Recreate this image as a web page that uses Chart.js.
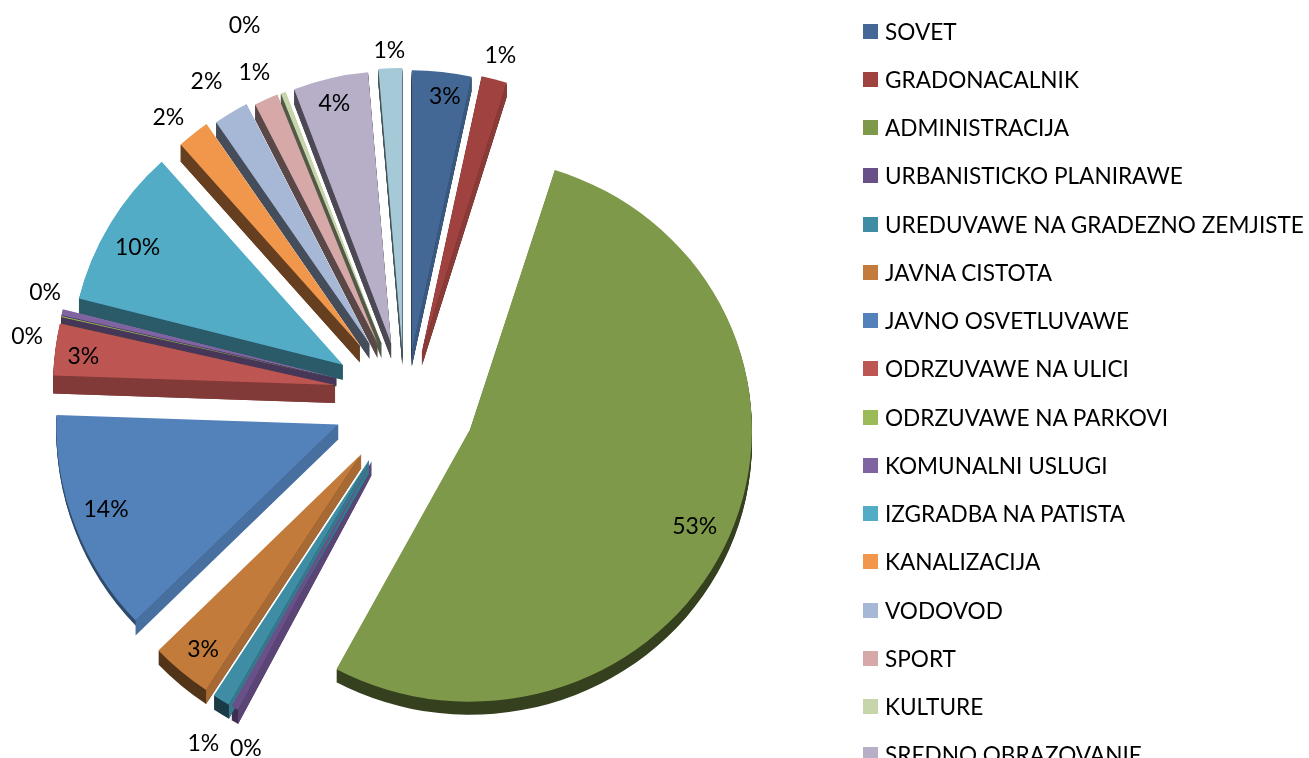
<!DOCTYPE html>
<html>
<head>
<meta charset="utf-8">
<title>Pie</title>
<script src="https://cdn.jsdelivr.net/npm/chart.js@4"></script>
<style>
  html, body { margin: 0; height: 758px; overflow: hidden; background: #fff; }
  #wrap { position: relative; width: 1309px; height: 758px; overflow: hidden; }
  #chart { position: absolute; left: 0; top: 0; }
  #legend { position: absolute; left: 863px; top: 7px; margin: 0; padding: 0; list-style: none;
    font: 22.6px Lato, sans-serif; color: #000; }
  #legend li { display: flex; align-items: center; height: 48.25px; white-space: nowrap; }
  #legend i { display: block; width: 15px; height: 15px; margin-right: 7px; }
</style>
</head>
<body>
<div id="wrap">
  <canvas id="chart" width="1309" height="758"></canvas>
  <ul id="legend"></ul>
</div>
<script>
// last slice has its legend row below the edge of the picture, name not readable
const categories = ["SOVET", "GRADONACALNIK", "ADMINISTRACIJA", "URBANISTICKO PLANIRAWE",
  "UREDUVAWE NA GRADEZNO ZEMJISTE", "JAVNA CISTOTA", "JAVNO OSVETLUVAWE", "ODRZUVAWE NA ULICI",
  "ODRZUVAWE NA PARKOVI", "KOMUNALNI USLUGI", "IZGRADBA NA PATISTA", "KANALIZACIJA",
  "VODOVOD", "SPORT", "KULTURE", "SREDNO OBRAZOVANIE", ""];

// shares as they look in the picture
const shares = [3.4, 1.47, 53, 0.42, 1, 3.5, 12.78, 2.97, 0.05, 0.35, 9.5, 1.95, 2.1, 1.45, 0.3, 4.45, 1.35];

// the percentages printed on the chart
const printedLabels = ["3%", "1%", "53%", "0%", "1%", "3%", "14%", "3%", "0%", "0%", "10%", "2%", "2%", "1%", "0%", "4%", "1%"];

const colors = ["#436895", "#a04340", "#7f994a", "#695089", "#3e8da4", "#c37b3c", "#5381ba", "#bd5653",
  "#9bbb59", "#8064a2", "#52acc6", "#f0974c", "#a7b8d6", "#d6a8a8", "#c6d5aa", "#b7aec8", "#a5c9d6"];

// how far each slice is pulled out of the pie, and how it sits in the fake 3d view
const explode = [50, 52, 71, 68, 68, 68, 71, 70, 70, 70, 72, 72, 68, 65, 63, 60, 52];
const nudgeX = [2, 4, 0, 0, 0, 0, 0, 0, 0, 0, 0, 0, 0, 0, 0, 0, 0];
const lift = [0, 0, 0, 0, 0, 0, -3, -8, -8, -8, 0, 0, 0, 0, 0, 0, 0];
const sizeScale = [1, 1, 1, 1, 1, 1, 1, 1, 1, 1, 0.965, 0.955, 0.955, 0.95, 0.955, 0.965, 1];
const tilt = [1, 1, 0.965, 1, 1, 1, 1, 1, 1, 1, 1, 1, 1, 1, 1, 1, 1];
const edgeDepth = [14, 14, 13, 14, 14, 14, 15, 18, 8, 8, 15, 17, 15, 15, 15, 15, 15];
const arcDepth = [14, 14, 13, 14, 14, 14, 5, 18, 8, 8, 15, 17, 15, 15, 15, 15, 15];
const wallShade = [0.42, 0.42, 0.42, 0.6, 0.42, 0.42, 0.57, 0.68, 0.42, 0.55, 0.53, 0.42, 0.42, 0.42, 0.42, 0.42, 0.42];

// label position relative to the middle of the slice's outer edge
const labelShift = [[3, 25], [6, -24], [-35, -13], [11, 40], [-18, 43], [22, -22], [31, -16], [28, 7], [-34, 20],
  [-17, -20], [36, 29], [-17, -6], [-18, -20], [-6, -14], [-34, -55], [6, 35], [-1, -18]];

function shade(hex, f) {
  let n = parseInt(hex.slice(1), 16);
  let r = Math.round((n >> 16) * f);
  let g = Math.round(((n >> 8) & 255) * f);
  let b = Math.round((n & 255) * f);
  return "rgb(" + r + "," + g + "," + b + ")";
}

function slicePath(ctx, x, y, rx, ry, a0, a1) {
  ctx.beginPath();
  ctx.moveTo(x, y);
  ctx.ellipse(x, y, rx, ry, 0, a0, a1);
  ctx.closePath();
}

// one straight side wall of a slice, only when it faces the viewer
function edgeWall(ctx, p, angle, side, d, i) {
  let nx = Math.cos(angle + side * Math.PI / 2);
  let ny = Math.sin(angle + side * Math.PI / 2);
  if (ny <= 0) return;
  let ex = p.x + Math.cos(angle) * p.rx;
  let ey = p.y + Math.sin(angle) * p.ry;
  ctx.fillStyle = nx > 0.3 ? shade(colors[i], 0.86) : shade(colors[i], wallShade[i]);
  ctx.beginPath();
  ctx.moveTo(p.x, p.y);
  ctx.lineTo(ex, ey);
  ctx.lineTo(ex, ey + d);
  ctx.lineTo(p.x, p.y + d);
  ctx.closePath();
  ctx.fill();
}

const explodedPie = {
  id: "explodedPie",
  beforeDatasetDraw(chart, args) {
    const ctx = chart.ctx;
    const arcs = chart.getDatasetMeta(args.index).data;

    const pos = arcs.map((arc, i) => {
      let mid = (arc.startAngle + arc.endAngle) / 2;
      return {
        x: arc.x + Math.cos(mid) * explode[i] + nudgeX[i],
        y: arc.y + Math.sin(mid) * explode[i] + lift[i],
        rx: arc.outerRadius * sizeScale[i],
        ry: arc.outerRadius * sizeScale[i] * tilt[i],
        mid: mid,
      };
    });

    // walls first
    arcs.forEach((arc, i) => {
      let p = pos[i];
      ctx.fillStyle = shade(colors[i], wallShade[i]);
      for (let d = 1; d <= arcDepth[i]; d++) {
        slicePath(ctx, p.x, p.y + d, p.rx, p.ry, arc.startAngle, arc.endAngle);
        ctx.fill();
      }
      edgeWall(ctx, p, arc.startAngle, -1, edgeDepth[i], i);
      edgeWall(ctx, p, arc.endAngle, 1, edgeDepth[i], i);
    });

    // then the top faces, drawn by the library's own arc elements
    arcs.forEach((arc, i) => {
      ctx.save();
      ctx.translate(pos[i].x, pos[i].y);
      ctx.scale(sizeScale[i], sizeScale[i] * tilt[i]);
      ctx.translate(-arc.x, -arc.y);
      arc.draw(ctx);
      ctx.restore();
    });

    ctx.save();
    ctx.fillStyle = "#000";
    ctx.font = "23px Lato, sans-serif";
    ctx.textAlign = "center";
    ctx.textBaseline = "middle";
    arcs.forEach((arc, i) => {
      let p = pos[i];
      let lx = p.x + Math.cos(p.mid) * arc.outerRadius + labelShift[i][0];
      let ly = p.y + Math.sin(p.mid) * arc.outerRadius + labelShift[i][1];
      ctx.fillText(printedLabels[i], lx, ly);
    });
    ctx.restore();

    return false;
  },
};

new Chart(document.querySelector("#chart"), {
  type: "pie",
  data: {
    labels: categories,
    datasets: [
      {
        data: shares,
        backgroundColor: colors,
        borderWidth: 0,
        radius: 282,
        clip: false,
      },
    ],
  },
  options: {
    responsive: false,
    animation: false,
    layout: {
      padding: { left: 0, right: 500, top: 46, bottom: 0 },
    },
    plugins: {
      legend: { display: false },
      tooltip: { enabled: false },
    },
  },
  plugins: [explodedPie],
});

const legend = document.querySelector("#legend");
categories.forEach((name, i) => {
  if (!name) return;
  let li = document.createElement("li");
  let box = document.createElement("i");
  box.style.background = colors[i];
  li.appendChild(box);
  li.appendChild(document.createTextNode(name));
  legend.appendChild(li);
});
</script>
</body>
</html>
